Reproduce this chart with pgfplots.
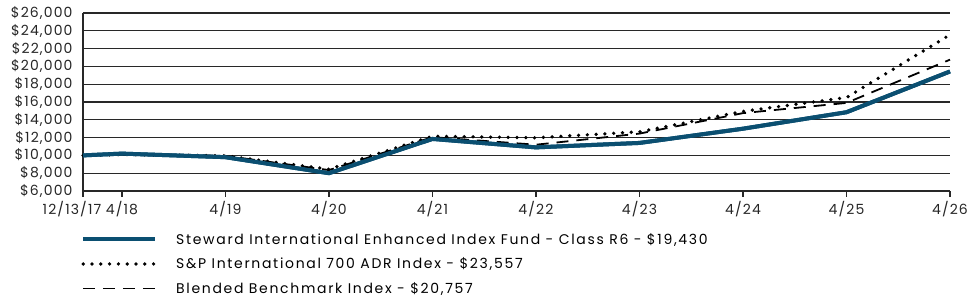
\documentclass[border=0pt]{standalone}
\usepackage{fontspec}
\setmainfont{Poppins}[LetterSpace=12]
\newfontfamily\tickfont{Poppins}[LetterSpace=8]
\usepackage{pgfplots}
\pgfplotsset{compat=1.18}
\definecolor{fundblue}{RGB}{11,79,113}
\definecolor{gridgray}{RGB}{40,40,40}
\begin{document}
\begin{tikzpicture}
\useasboundingbox (-83pt,-113pt) rectangle (892pt,191pt);
\begin{axis}[
  scale only axis, width=867pt, height=178pt,
  xmin=-0.376, xmax=8, ymin=6000, ymax=26000,
  axis x line*=bottom, axis y line*=left,
  axis line style={gridgray, line width=1.2pt},
  xtick={0,1,2,3,4,5,6,7,8},
  xticklabels={4/18,4/19,4/20,4/21,4/22,4/23,4/24,4/25,4/26},
  extra x ticks={-0.376}, extra x tick labels={12/13/17},
  extra x tick style={xticklabel style={xshift=-11pt}},
  ytick={6000,8000,...,26000},
  yticklabels={{\$6,000},{\$8,000},{\$10,000},{\$12,000},{\$14,000},{\$16,000},{\$18,000},{\$20,000},{\$22,000},{\$24,000},{\$26,000}},
  scaled y ticks=false,
  ymajorgrids, major grid style={gridgray, line width=1.2pt},
  ytick style={draw=none},
  xtick style={gridgray, line width=1.2pt},
  tick align=outside, major tick length=6pt,
  tick label style={font=\tickfont\fontsize{14pt}{16pt}\selectfont, text=black!85},
  xticklabel style={yshift=-1pt},
  yticklabel style={xshift=-1pt},
  clip=false,
  legend cell align=left,
  legend style={draw=none, fill=none, at={(0,0)}, anchor=north west, xshift=-2pt, yshift=-40pt,
    font=\fontsize{14pt}{16pt}\selectfont, row sep=8pt, inner sep=0pt},
  legend image code/.code={\draw[#1] (0pt,0pt) -- (72pt,0pt); \path[draw=none] (0pt,0pt) -- (91pt,0pt);},
]
\addplot[fundblue, line width=4pt] coordinates {(-0.376,10000) (0,10200) (1,9800) (2,8000) (3,11850) (4,10900) (5,11400) (6,13000) (7,14850) (8,19430)};
\addlegendentry{Steward International Enhanced Index Fund - Class R6 - \$19,430}
\addplot[black, line width=3.7pt, line cap=round, dash pattern=on 0pt off 8.8pt] coordinates {(-0.376,10000) (0,10100) (1,9950) (2,8450) (3,12150) (4,11980) (5,12650) (6,14950) (7,16500) (8,23557)};
\addlegendentry{S\&P International 700 ADR Index - \$23,557}
\addplot[black, line width=1.8pt, dash pattern=on 12pt off 8pt] coordinates {(-0.376,10000) (0,10100) (1,9950) (2,8350) (3,12050) (4,11200) (5,12450) (6,14750) (7,15900) (8,20757)};
\addlegendentry{Blended Benchmark Index - \$20,757}
\addplot[fundblue, line width=4pt, forget plot] coordinates {(-0.376,10000) (0,10200) (1,9800) (2,8000) (3,11850) (4,10900) (5,11400) (6,13000) (7,14850) (8,19430)};
\end{axis}
\end{tikzpicture}
\end{document}
